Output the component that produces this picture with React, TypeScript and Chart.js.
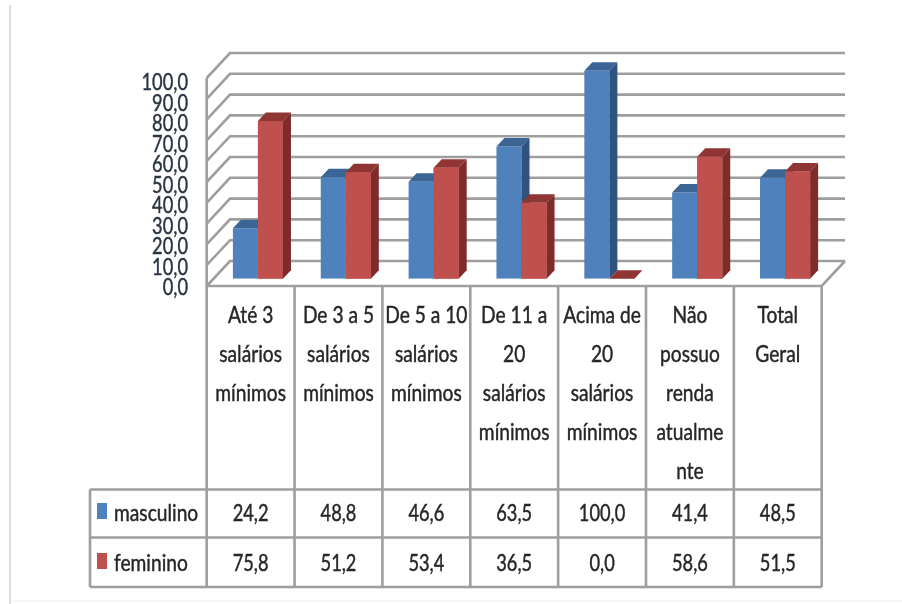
import React, { useEffect, useRef } from "react";
import { Chart, registerables } from "chart.js";

Chart.register(...registerables);

const categories = [
  ["Até 3", "salários", "mínimos"],
  ["De 3 a 5", "salários", "mínimos"],
  ["De 5 a 10", "salários", "mínimos"],
  ["De 11 a", "20", "salários", "mínimos"],
  ["Acima de", "20", "salários", "mínimos"],
  ["Não", "possuo", "renda", "atualme", "nte"],
  ["Total", "Geral"],
];
const masculino = [24.2, 48.8, 46.6, 63.5, 100.0, 41.4, 48.5];
const feminino = [75.8, 51.2, 53.4, 36.5, 0.0, 58.6, 51.5];
const seriesNames = ["masculino", "feminino"];
const yTicks = [0, 10, 20, 30, 40, 50, 60, 70, 80, 90, 100];

const FONT = '24px Lato, sans-serif';
const SQUEEZE_NUM = 0.76;
const SQUEEZE_WORD = 0.8;
const TEXT = "#262626";
const AXIS_TEXT = "#2a3442";
const LINE = "#9e9e9e";
const BLUE = ["#4f81bd", "#3a6595", "#2f5280"];
const RED = ["#c0504d", "#8f3533", "#7d2c2a"];

const fmt = (v: number) => v.toFixed(1).replace(".", ",");

// Bar plane -> wall plane offsets of the pseudo-3D box
const BACK = { dx: 16, dy: -17.7 };
const FRONT = { dx: -7.3, dy: 7.3 };
const BAR = { dx: 8, dy: -8.5 };
const ROWS = [489.5, 537.5, 587];
const ROW_TEXT = [513, 563];
const CAT_TOP = 315;
const CAT_STEP = 39;
const TABLE_LEFT = 90;
const AXIS_TEXT_RIGHT = 188;

function squeezed(ctx: any, text: string, x: number, y: number, align: string, color: string, k: number) {
  ctx.save();
  ctx.translate(x, y);
  ctx.scale(k, 1);
  ctx.font = FONT;
  ctx.textAlign = align;
  ctx.textBaseline = "middle";
  ctx.fillStyle = color;
  ctx.strokeStyle = color;
  ctx.lineWidth = 0.45;
  ctx.fillText(text, 0, 0);
  ctx.strokeText(text, 0, 0);
  ctx.restore();
}

const box3d = {
  id: "box3d",
  beforeDraw(chart: any) {
    const { ctx } = chart;
    ctx.save();
    ctx.fillStyle = "#dcdcdc";
    ctx.fillRect(9, 5, 2, 599);
    ctx.fillStyle = "#f6f6f6";
    ctx.fillRect(11, 600, 891, 2);
    ctx.restore();
  },
  beforeDatasetsDraw(chart: any) {
    const { ctx, chartArea, scales } = chart;
    const y = scales.y;
    const l = chartArea.left;
    const r = chartArea.right;
    ctx.save();
    ctx.strokeStyle = LINE;
    ctx.lineWidth = 2.6;
    for (const t of yTicks) {
      const p = y.getPixelForValue(t);
      ctx.beginPath();
      ctx.moveTo(l + FRONT.dx, p + FRONT.dy);
      ctx.lineTo(l + BACK.dx, p + BACK.dy);
      ctx.lineTo(r + BACK.dx, p + BACK.dy);
      ctx.stroke();
    }
    const p0 = y.getPixelForValue(0);
    const p100 = y.getPixelForValue(100);
    ctx.beginPath();
    ctx.moveTo(l + FRONT.dx, p100 + FRONT.dy);
    ctx.lineTo(l + FRONT.dx, p0 + FRONT.dy);
    ctx.lineTo(r + FRONT.dx, p0 + FRONT.dy);
    ctx.lineTo(r + BACK.dx, p0 + BACK.dy);
    ctx.stroke();
    ctx.restore();
  },
  afterDatasetsDraw(chart: any) {
    const { ctx, scales } = chart;
    const y = scales.y;
    const base = y.getPixelForValue(0);
    ctx.save();
    chart.data.labels.forEach((_: any, i: number) => {
      [0, 1].forEach((d) => {
        const bar = chart.getDatasetMeta(d).data[i];
        const pal = d === 0 ? BLUE : RED;
        const half = bar.width / 2;
        const x0 = bar.x - half;
        const x1 = bar.x + half;
        const top = bar.y;
        ctx.fillStyle = pal[1];
        ctx.beginPath();
        ctx.moveTo(x0, top);
        ctx.lineTo(x0 + BAR.dx, top + BAR.dy);
        ctx.lineTo(x1 + BAR.dx, top + BAR.dy);
        ctx.lineTo(x1, top);
        ctx.closePath();
        ctx.fill();
        ctx.fillStyle = pal[2];
        ctx.beginPath();
        ctx.moveTo(x1, top);
        ctx.lineTo(x1 + BAR.dx, top + BAR.dy);
        ctx.lineTo(x1 + BAR.dx, base + BAR.dy);
        ctx.lineTo(x1, base);
        ctx.closePath();
        ctx.fill();
      });
      // the right bar's face stays in front of the left bar's side
      const red = chart.getDatasetMeta(1).data[i];
      ctx.fillStyle = RED[0];
      ctx.fillRect(red.x - red.width / 2, red.y, red.width, base - red.y);
    });
    ctx.restore();
  },
  afterDraw(chart: any) {
    const { ctx, chartArea, scales } = chart;
    const x = scales.x;
    const y = scales.y;
    const step = x.getPixelForValue(1) - x.getPixelForValue(0);
    const colX = chart.data.labels.map(
      (_: any, i: number) => x.getPixelForValue(i) + FRONT.dx - step / 2
    );
    colX.push(chartArea.right + FRONT.dx);
    const floor = y.getPixelForValue(0) + FRONT.dy;
    const bottom = ROWS[ROWS.length - 1];
    ctx.save();
    ctx.strokeStyle = LINE;
    ctx.lineWidth = 2.6;
    colX.forEach((cx: number) => {
      ctx.beginPath();
      ctx.moveTo(cx, floor);
      ctx.lineTo(cx, bottom);
      ctx.stroke();
    });
    ROWS.forEach((ry) => {
      ctx.beginPath();
      ctx.moveTo(TABLE_LEFT, ry);
      ctx.lineTo(colX[colX.length - 1], ry);
      ctx.stroke();
    });
    ctx.beginPath();
    ctx.moveTo(TABLE_LEFT, ROWS[0]);
    ctx.lineTo(TABLE_LEFT, ROWS[2]);
    ctx.stroke();
    ctx.restore();

    // value-axis labels
    yTicks.forEach((t) => {
      const py = y.getPixelForValue(t) + 8.8 + t * 0.03;
      squeezed(ctx, fmt(t), AXIS_TEXT_RIGHT, py, "right", AXIS_TEXT, SQUEEZE_NUM);
    });

    // category labels
    categories.forEach((lines, i) => {
      const cx = (colX[i] + colX[i + 1]) / 2;
      lines.forEach((line, j) => {
        squeezed(ctx, line, cx, CAT_TOP + j * CAT_STEP, "center", TEXT, SQUEEZE_WORD);
      });
    });

    // data table
    [masculino, feminino].forEach((vals, r) => {
      const cy = ROW_TEXT[r];
      vals.forEach((v, i) => {
        squeezed(ctx, fmt(v), (colX[i] + colX[i + 1]) / 2, cy, "center", TEXT, SQUEEZE_NUM);
      });
      squeezed(ctx, seriesNames[r], 114, cy, "left", TEXT, SQUEEZE_WORD);
      ctx.fillStyle = r === 0 ? BLUE[0] : RED[0];
      ctx.fillRect(97, cy - 10, 10, 16);
    });
  },
};

export default function App() {
  const ref = useRef<HTMLCanvasElement>(null);
  useEffect(() => {
    document.body.style.margin = "0";
    const chart = new Chart(ref.current!, {
      type: "bar",
      data: {
        labels: categories as any,
        datasets: [
          { label: seriesNames[0], data: masculino, backgroundColor: BLUE[0] },
          { label: seriesNames[1], data: feminino, backgroundColor: RED[0] },
        ],
      },
      plugins: [box3d],
      options: {
        animation: false,
        responsive: false,
        layout: { padding: { left: 0, right: 73, top: 70.7, bottom: 0 } },
        plugins: { legend: { display: false }, tooltip: { enabled: false } },
        datasets: { bar: { categoryPercentage: 0.57, barPercentage: 1 } },
        scales: {
          x: {
            grid: { display: false, drawTicks: false },
            border: { display: false },
            afterFit: (s: any) => { s.height = 325.3; },
            ticks: { display: false },
          },
          y: {
            min: 0,
            max: 100,
            afterFit: (s: any) => { s.width = 214; },
            afterBuildTicks: (s: any) => { s.ticks = yTicks.map((value) => ({ value })); },
            grid: { display: false, drawTicks: false },
            border: { display: false },
            ticks: { display: false },
          },
        },
      },
    });
    return () => chart.destroy();
  }, []);
  return (
    <canvas
      ref={ref}
      width={902}
      height={604}
      style={{ display: "block", filter: "blur(0.7px)" }}
    />
  );
}
